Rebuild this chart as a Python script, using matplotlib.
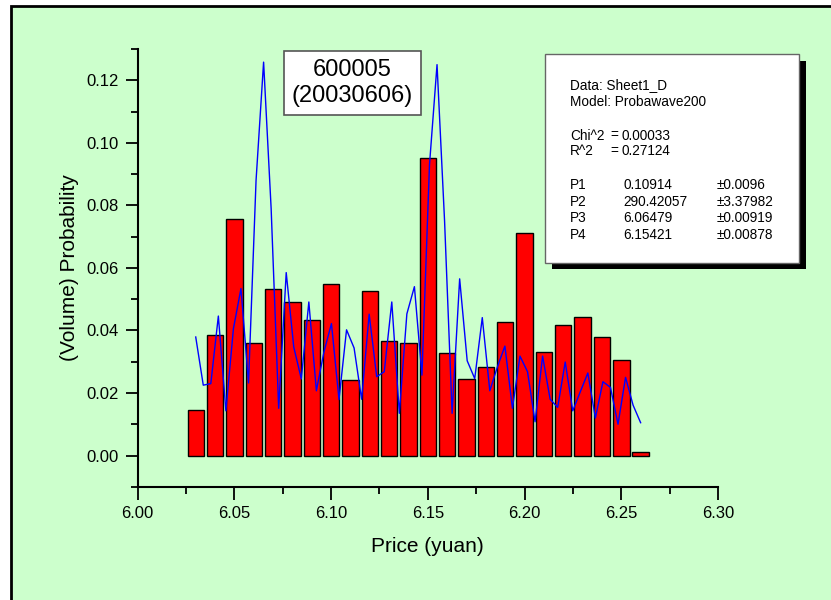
import numpy as np
import matplotlib
matplotlib.use("Agg")
import matplotlib.pyplot as plt
from matplotlib.patches import Rectangle
from matplotlib.ticker import MultipleLocator, FormatStrFormatter

plt.rcParams['font.family'] = ['Liberation Sans', 'DejaVu Sans']

# ---- data ----
bar_x = [6.03, 6.04, 6.05, 6.06, 6.07, 6.08, 6.09, 6.10, 6.11, 6.12, 6.13, 6.14,
         6.15, 6.16, 6.17, 6.18, 6.19, 6.20, 6.21, 6.22, 6.23, 6.24, 6.25, 6.26]
bar_y = [0.0145, 0.0385, 0.0755, 0.0360, 0.0533, 0.0491, 0.0434, 0.0550,
         0.0243, 0.0525, 0.0365, 0.0361, 0.0953, 0.0328, 0.0246, 0.0283,
         0.0427, 0.0713, 0.0330, 0.0416, 0.0443, 0.0378, 0.0307, 0.0010]

fit_y = [0.0379, 0.0225, 0.0230, 0.0446, 0.0143, 0.0406, 0.0534, 0.0232,
         0.0880, 0.1258, 0.0790, 0.0151, 0.0585, 0.0347, 0.0245, 0.0491,
         0.0207, 0.0331, 0.0422, 0.0179, 0.0402, 0.0344, 0.0180, 0.0452,
         0.0252, 0.0268, 0.0491, 0.0135, 0.0453, 0.0540, 0.0257, 0.0930,
         0.1250, 0.0750, 0.0135, 0.0565, 0.0303, 0.0246, 0.0441, 0.0207,
         0.0283, 0.0350, 0.0151, 0.0318, 0.0268, 0.0108, 0.0318, 0.0180,
         0.0154, 0.0299, 0.0143, 0.0204, 0.0264, 0.0120, 0.0236, 0.0218,
         0.0100, 0.0250, 0.0161, 0.0105]
fit_x = np.linspace(bar_x[0], bar_x[-1], len(fit_y))

x_ticks = [6.00, 6.05, 6.10, 6.15, 6.20, 6.25, 6.30]
y_ticks = [0.00, 0.02, 0.04, 0.06, 0.08, 0.10, 0.12]

title_text = "600005\n(20030606)"
stats_head = ["Data: Sheet1_D", "Model: Probawave200"]
stats_fit = [("Chi^2", "0.00033"), ("R^2", "0.27124")]
stats_par = [("P1", "0.10914", "\u00b10.0096"),
             ("P2", "290.42057", "\u00b13.37982"),
             ("P3", "6.06479", "\u00b10.00919"),
             ("P4", "6.15421", "\u00b10.00878")]

W, H = 831, 600
GREEN = "#CCFFCC"

fig = plt.figure(figsize=(W / 100, H / 100), dpi=100, facecolor="white")

def fx(px):
    return px / W

def fy(py):
    return 1 - py / H

# background panel with black border on left/top
bg = Rectangle((fx(10.5), -0.1), 1.2, fy(5.5) + 0.1, transform=fig.transFigure,
               facecolor=GREEN, edgecolor="black", linewidth=2, zorder=0)
fig.add_artist(bg)

ax = fig.add_axes([fx(137.7), fy(486.8), fx(718) - fx(137.7), fy(49) - fy(486.8)])
ax.set_facecolor("none")

ax.bar(bar_x, bar_y, width=0.0085, color="#FF0000", edgecolor="black",
       linewidth=1.0, zorder=2)
ax.plot(fit_x, fit_y, color="#0000FF", linewidth=1.0, zorder=3)

ax.set_xlim(6.0, 6.30)
ax.set_ylim(-0.01, 0.13)
ax.set_xticks(x_ticks)
ax.set_yticks(y_ticks)
ax.xaxis.set_minor_locator(MultipleLocator(0.025))
ax.yaxis.set_minor_locator(MultipleLocator(0.01))
ax.xaxis.set_major_formatter(FormatStrFormatter("%.2f"))
ax.yaxis.set_major_formatter(FormatStrFormatter("%.2f"))

for s in ["top", "right"]:
    ax.spines[s].set_visible(False)
for s in ["left", "bottom"]:
    ax.spines[s].set_linewidth(1.5)

ax.tick_params(which="major", direction="out", length=9, width=1.3,
               labelsize=12, pad=5)
ax.tick_params(which="minor", direction="out", length=5, width=1.3)

ax.set_xlabel("Price (yuan)", fontsize=15, labelpad=11)
ax.set_ylabel("(Volume) Probability", fontsize=15, labelpad=5)

# title box
fig.text(fx(352.5), fy(83), title_text, fontsize=17, ha="center", va="center",
         linespacing=1.25, zorder=5,
         bbox=dict(boxstyle="square,pad=0.32", facecolor="white",
                   edgecolor="#555555", linewidth=1.2))

# stats box with shadow
L, T, R, B = 545, 54, 799.3, 262.7
off = 6.5
fig.add_artist(Rectangle((fx(L + off), fy(B + off)), fx(R) - fx(L), fy(T) - fy(B),
                         transform=fig.transFigure, facecolor="black",
                         edgecolor="black", linewidth=0, zorder=5))
fig.add_artist(Rectangle((fx(L), fy(B)), fx(R) - fx(L), fy(T) - fy(B),
                         transform=fig.transFigure, facecolor="white",
                         edgecolor="#666666", linewidth=1.0, zorder=6))

fs = 9.8
for i, line in enumerate(stats_head):
    fig.text(fx(570), fy(85 + 16.7 * i), line, fontsize=fs, va="center", zorder=7)
for i, (k, v) in enumerate(stats_fit):
    yy = 135.5 + 16 * i
    fig.text(fx(570), fy(yy), k, fontsize=fs, va="center", zorder=7)
    fig.text(fx(610), fy(yy), "=", fontsize=fs, va="center", zorder=7)
    fig.text(fx(621), fy(yy), v, fontsize=fs, va="center", zorder=7)
for i, (k, v, e) in enumerate(stats_par):
    yy = 185 + 16.7 * i
    fig.text(fx(570), fy(yy), k, fontsize=fs, va="center", zorder=7)
    fig.text(fx(623), fy(yy), v, fontsize=fs, va="center", zorder=7)
    fig.text(fx(716.5), fy(yy), e, fontsize=fs, va="center", zorder=7)

fig.savefig("out.png", dpi=100, facecolor="white")
